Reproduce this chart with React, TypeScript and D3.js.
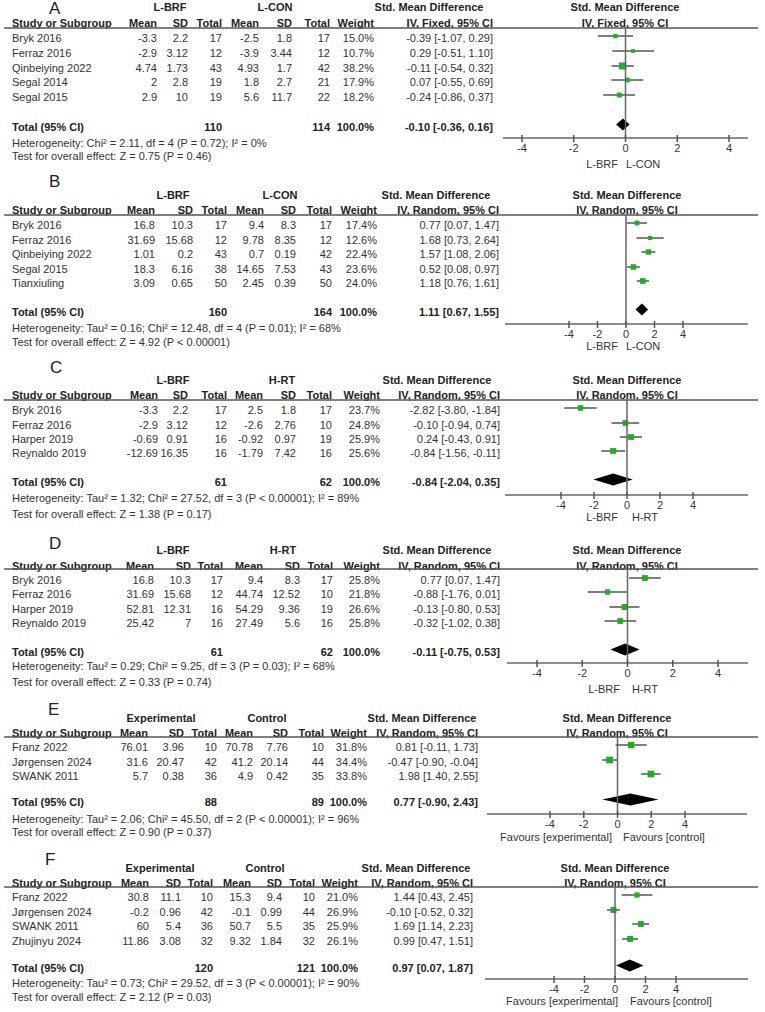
import React from "react";
import * as d3 from "d3";

// ---------- DATA ----------
const panelLetters = ["A", "B", "C", "D", "E", "F"];
const groupLabels = [
  ["L-BRF", "L-CON"],
  ["L-BRF", "L-CON"],
  ["L-BRF", "H-RT"],
  ["L-BRF", "H-RT"],
  ["Experimental", "Control"],
  ["Experimental", "Control"],
];
const methodLabels = [
  "IV, Fixed, 95% CI",
  "IV, Random, 95% CI",
  "IV, Random, 95% CI",
  "IV, Random, 95% CI",
  "IV, Random, 95% CI",
  "IV, Random, 95% CI",
];
const favourLabels = [
  ["L-BRF", "L-CON"],
  ["L-BRF", "L-CON"],
  ["L-BRF", "H-RT"],
  ["L-BRF", "H-RT"],
  ["Favours [experimental]", "Favours [control]"],
  ["Favours [experimental]", "Favours [control]"],
];
const columnHeaders = ["Mean", "SD", "Total", "Mean", "SD", "Total", "Weight"];
const tickValues = [-4, -2, 0, 2, 4];

// study rows: [name, mean1, sd1, n1, mean2, sd2, n2, weight, smd, lo, hi]
type Row = [string, string, string, number, string, string, number, number, number, number, number];
const studiesA: Row[] = [
  ["Bryk 2016", "-3.3", "2.2", 17, "-2.5", "1.8", 17, 15.0, -0.39, -1.07, 0.29],
  ["Ferraz 2016", "-2.9", "3.12", 12, "-3.9", "3.44", 12, 10.7, 0.29, -0.51, 1.10],
  ["Qinbeiying 2022", "4.74", "1.73", 43, "4.93", "1.7", 42, 38.2, -0.11, -0.54, 0.32],
  ["Segal 2014", "2", "2.8", 19, "1.8", "2.7", 21, 17.9, 0.07, -0.55, 0.69],
  ["Segal 2015", "2.9", "10", 19, "5.6", "11.7", 22, 18.2, -0.24, -0.86, 0.37],
];
const studiesB: Row[] = [
  ["Bryk 2016", "16.8", "10.3", 17, "9.4", "8.3", 17, 17.4, 0.77, 0.07, 1.47],
  ["Ferraz 2016", "31.69", "15.68", 12, "9.78", "8.35", 12, 12.6, 1.68, 0.73, 2.64],
  ["Qinbeiying 2022", "1.01", "0.2", 43, "0.7", "0.19", 42, 22.4, 1.57, 1.08, 2.06],
  ["Segal 2015", "18.3", "6.16", 38, "14.65", "7.53", 43, 23.6, 0.52, 0.08, 0.97],
  ["Tianxiuling", "3.09", "0.65", 50, "2.45", "0.39", 50, 24.0, 1.18, 0.76, 1.61],
];
const studiesC: Row[] = [
  ["Bryk 2016", "-3.3", "2.2", 17, "2.5", "1.8", 17, 23.7, -2.82, -3.80, -1.84],
  ["Ferraz 2016", "-2.9", "3.12", 12, "-2.6", "2.76", 10, 24.8, -0.10, -0.94, 0.74],
  ["Harper 2019", "-0.69", "0.91", 16, "-0.92", "0.97", 19, 25.9, 0.24, -0.43, 0.91],
  ["Reynaldo 2019", "-12.69", "16.35", 16, "-1.79", "7.42", 16, 25.6, -0.84, -1.56, -0.11],
];
const studiesD: Row[] = [
  ["Bryk 2016", "16.8", "10.3", 17, "9.4", "8.3", 17, 25.8, 0.77, 0.07, 1.47],
  ["Ferraz 2016", "31.69", "15.68", 12, "44.74", "12.52", 10, 21.8, -0.88, -1.76, 0.01],
  ["Harper 2019", "52.81", "12.31", 16, "54.29", "9.36", 19, 26.6, -0.13, -0.80, 0.53],
  ["Reynaldo 2019", "25.42", "7", 16, "27.49", "5.6", 16, 25.8, -0.32, -1.02, 0.38],
];
const studiesE: Row[] = [
  ["Franz 2022", "76.01", "3.96", 10, "70.78", "7.76", 10, 31.8, 0.81, -0.11, 1.73],
  ["Jørgensen 2024", "31.6", "20.47", 42, "41.2", "20.14", 44, 34.4, -0.47, -0.90, -0.04],
  ["SWANK 2011", "5.7", "0.38", 36, "4.9", "0.42", 35, 33.8, 1.98, 1.40, 2.55],
];
const studiesF: Row[] = [
  ["Franz 2022", "30.8", "11.1", 10, "15.3", "9.4", 10, 21.0, 1.44, 0.43, 2.45],
  ["Jørgensen 2024", "-0.2", "0.96", 42, "-0.1", "0.99", 44, 26.9, -0.10, -0.52, 0.32],
  ["SWANK 2011", "60", "5.4", 36, "50.7", "5.5", 35, 25.9, 1.69, 1.14, 2.23],
  ["Zhujinyu 2024", "11.86", "3.08", 32, "9.32", "1.84", 32, 26.1, 0.99, 0.47, 1.51],
];
const allStudies = [studiesA, studiesB, studiesC, studiesD, studiesE, studiesF];

// totals: [n1, n2, smd, lo, hi]
const totals: [number, number, number, number, number][] = [
  [110, 114, -0.10, -0.36, 0.16],
  [160, 164, 1.11, 0.67, 1.55],
  [61, 62, -0.84, -2.04, 0.35],
  [61, 62, -0.11, -0.75, 0.53],
  [88, 89, 0.77, -0.90, 2.43],
  [120, 121, 0.97, 0.07, 1.87],
];
const heterogeneityTexts = [
  "Heterogeneity: Chi² = 2.11, df = 4 (P = 0.72); I² = 0%",
  "Heterogeneity: Tau² = 0.16; Chi² = 12.48, df = 4 (P = 0.01); I² = 68%",
  "Heterogeneity: Tau² = 1.32; Chi² = 27.52, df = 3 (P < 0.00001); I² = 89%",
  "Heterogeneity: Tau² = 0.29; Chi² = 9.25, df = 3 (P = 0.03); I² = 68%",
  "Heterogeneity: Tau² = 2.06; Chi² = 45.50, df = 2 (P < 0.00001); I² = 96%",
  "Heterogeneity: Tau² = 0.73; Chi² = 29.52, df = 3 (P < 0.00001); I² = 90%",
];
const overallTexts = [
  "Test for overall effect: Z = 0.75 (P = 0.46)",
  "Test for overall effect: Z = 4.92 (P < 0.00001)",
  "Test for overall effect: Z = 1.38 (P = 0.17)",
  "Test for overall effect: Z = 0.33 (P = 0.74)",
  "Test for overall effect: Z = 0.90 (P = 0.37)",
  "Test for overall effect: Z = 2.12 (P = 0.03)",
];

// ---------- LAYOUT (positions only) ----------
type Layout = {
  letter: [number, number];
  groupY: number; headerY: number; lineY: number;
  rows: number[]; totalY: number; hetY: number; testY: number;
  cols: number[]; g1: number; g2: number; smd: number; plotHead: number;
  x4: [number, number]; axis: [number, number]; axisY: number;
  footY: number; footL: number; footR: number;
};
const layouts: Layout[] = [
  { letter: [49, 14], groupY: 7, headerY: 23, lineY: 28, rows: [38, 53, 68, 82, 97], totalY: 127, hetY: 143, testY: 156,
    cols: [157, 188, 222, 259, 292, 330, 374, 493], g1: 170, g2: 275, smd: 429, plotHead: 625,
    x4: [522, 729], axis: [503, 748], axisY: 138, footY: 164, footL: 618, footR: 626 },
  { letter: [49, 187], groupY: 195, headerY: 210, lineY: 215, rows: [225, 240, 254, 269, 283], totalY: 312, hetY: 328, testY: 342,
    cols: [155, 193, 227, 264, 296, 332, 377, 499], g1: 173, g2: 280, smd: 436, plotHead: 627,
    x4: [569, 683], axis: [505, 748], axisY: 324, footY: 346, footL: 618, footR: 626 },
  { letter: [50, 373], groupY: 380, headerY: 395, lineY: 400, rows: [410, 425, 439, 453], totalY: 482, hetY: 498, testY: 514,
    cols: [158, 188, 227, 263, 296, 332, 380, 500], g1: 173, g2: 282, smd: 437, plotHead: 627,
    x4: [561, 693], axis: [505, 748], axisY: 495, footY: 517, footL: 618, footR: 632 },
  { letter: [49, 549], groupY: 550, headerY: 566, lineY: 569, rows: [580, 594, 609, 623], totalY: 652, hetY: 666, testY: 682,
    cols: [154, 191, 223, 263, 300, 333, 380, 500], g1: 173, g2: 283, smd: 437, plotHead: 627,
    x4: [537, 718], axis: [507, 748], axisY: 663, footY: 689, footL: 620, footR: 632 },
  { letter: [48, 715], groupY: 718, headerY: 733, lineY: 737, rows: [747, 762, 776], totalY: 802, hetY: 819, testY: 832,
    cols: [148, 184, 217, 253, 288, 324, 367, 478], g1: 161, g2: 267, smd: 422, plotHead: 617,
    x4: [550, 685], axis: [487, 747], axisY: 814, footY: 837, footL: 612, footR: 623 },
  { letter: [45, 865], groupY: 868, headerY: 883, lineY: 887, rows: [897, 912, 926, 941], totalY: 968, hetY: 983, testY: 997,
    cols: [149, 181, 213, 251, 282, 315, 358, 473], g1: 160, g2: 265, smd: 416, plotHead: 615,
    x4: [554, 676], axis: [485, 748], axisY: 979, footY: 1001, footL: 618, footR: 630 },
];

const FONT = "'Liberation Sans', Arial, sans-serif";
const TXT = "#333";
const BOLD = "#222";
const GREEN = "#1fb01f";
const fmtCI = (m: number, l: number, h: number) => `${m.toFixed(2)} [${l.toFixed(2)}, ${h.toFixed(2)}]`;

function Panel({ i }: { i: number }) {
  const L = layouts[i];
  const studies = allStudies[i];
  const tot = totals[i];
  const x = d3.scaleLinear().domain([-4, 4]).range(L.x4);
  const base = 4;
  return (
    <g fontFamily={FONT} fontSize={11}>
      <text x={L.letter[0]} y={L.letter[1]} fontSize={17} fill="#222">{panelLetters[i]}</text>
      {/* group headers */}
      <text x={L.g1} y={L.groupY + base} textAnchor="middle" fontWeight="bold" fill={BOLD}>{groupLabels[i][0]}</text>
      <text x={L.g2} y={L.groupY + base} textAnchor="middle" fontWeight="bold" fill={BOLD}>{groupLabels[i][1]}</text>
      <text x={L.smd} y={L.groupY + base} textAnchor="middle" fontWeight="bold" fill={BOLD}>Std. Mean Difference</text>
      <text x={L.plotHead} y={L.groupY + base} textAnchor="middle" fontWeight="bold" fill={BOLD}>Std. Mean Difference</text>
      {/* column headers */}
      <text x={12} y={L.headerY + base} fontWeight="bold" fill={BOLD}>Study or Subgroup</text>
      {columnHeaders.map((h, k) => (
        <text key={k} x={L.cols[k]} y={L.headerY + base} textAnchor="end" fontWeight="bold" fill={BOLD}>{h}</text>
      ))}
      <text x={L.cols[7]} y={L.headerY + base} textAnchor="end" fontWeight="bold" fill={BOLD}>{methodLabels[i]}</text>
      <text x={L.plotHead} y={L.headerY + base} textAnchor="middle" fontWeight="bold" fill={BOLD}>{methodLabels[i]}</text>
      <line x1={4} x2={758} y1={L.lineY} y2={L.lineY} stroke="#555" strokeWidth={1.5} />
      {/* study rows */}
      {studies.map((s, r) => {
        const y = L.rows[r];
        const vals = [s[1], s[2], String(s[3]), s[4], s[5], String(s[6]), `${s[7].toFixed(1)}%`, fmtCI(s[8], s[9], s[10])];
        const side = 1.15 * Math.sqrt(s[7]);
        const my = y - 2;
        return (
          <g key={r}>
            <text x={12} y={y + base} fill={TXT}>{s[0]}</text>
            {vals.map((v, k) => (
              <text key={k} x={L.cols[k]} y={y + base} textAnchor="end" fill={TXT}>{v}</text>
            ))}
            <line x1={x(s[9])} x2={x(s[10])} y1={my} y2={my} stroke="#555" strokeWidth={1.5} />
            <rect x={x(s[8]) - side / 2} y={my - side / 2} width={side} height={side} fill={GREEN} />
          </g>
        );
      })}
      {/* total */}
      <text x={12} y={L.totalY + base} fontWeight="bold" fill={BOLD}>Total (95% CI)</text>
      <text x={L.cols[2]} y={L.totalY + base} textAnchor="end" fontWeight="bold" fill={BOLD}>{tot[0]}</text>
      <text x={L.cols[5]} y={L.totalY + base} textAnchor="end" fontWeight="bold" fill={BOLD}>{tot[1]}</text>
      <text x={L.cols[6]} y={L.totalY + base} textAnchor="end" fontWeight="bold" fill={BOLD}>100.0%</text>
      <text x={L.cols[7]} y={L.totalY + base} textAnchor="end" fontWeight="bold" fill={BOLD}>{fmtCI(tot[2], tot[3], tot[4])}</text>
      <path
        d={`M${x(tot[3])},${L.totalY - 2.5} L${x(tot[2])},${L.totalY - 8.5} L${x(tot[4])},${L.totalY - 2.5} L${x(tot[2])},${L.totalY + 3.5} Z`}
        fill="#000"
      />
      <text x={12} y={L.hetY + base} fill={TXT}>{heterogeneityTexts[i]}</text>
      <text x={12} y={L.testY + base} fill={TXT}>{overallTexts[i]}</text>
      {/* zero line & axis */}
      <line x1={x(0)} x2={x(0)} y1={L.lineY} y2={L.axisY} stroke="#666" strokeWidth={1.5} />
      <line x1={L.axis[0]} x2={L.axis[1]} y1={L.axisY} y2={L.axisY} stroke="#666" strokeWidth={1.5} />
      {tickValues.map((t) => (
        <g key={t}>
          <line x1={x(t)} x2={x(t)} y1={L.axisY - 3} y2={L.axisY + 4} stroke="#555" strokeWidth={1.5} />
          <text x={x(t)} y={L.axisY + 14} textAnchor="middle" fill={TXT}>{t}</text>
        </g>
      ))}
      <text x={L.footL} y={L.footY + base} textAnchor="end" fill={TXT}>{favourLabels[i][0]}</text>
      <text x={L.footR} y={L.footY + base} fill={TXT}>{favourLabels[i][1]}</text>
    </g>
  );
}

export default function App() {
  return (
    <svg
      width={765}
      height={1012}
      style={{ position: "absolute", left: 0, top: 0, background: "#fff" }}
    >
      <rect width={765} height={1012} fill="#fff" />
      {layouts.map((_, i) => (
        <Panel key={i} i={i} />
      ))}
    </svg>
  );
}
